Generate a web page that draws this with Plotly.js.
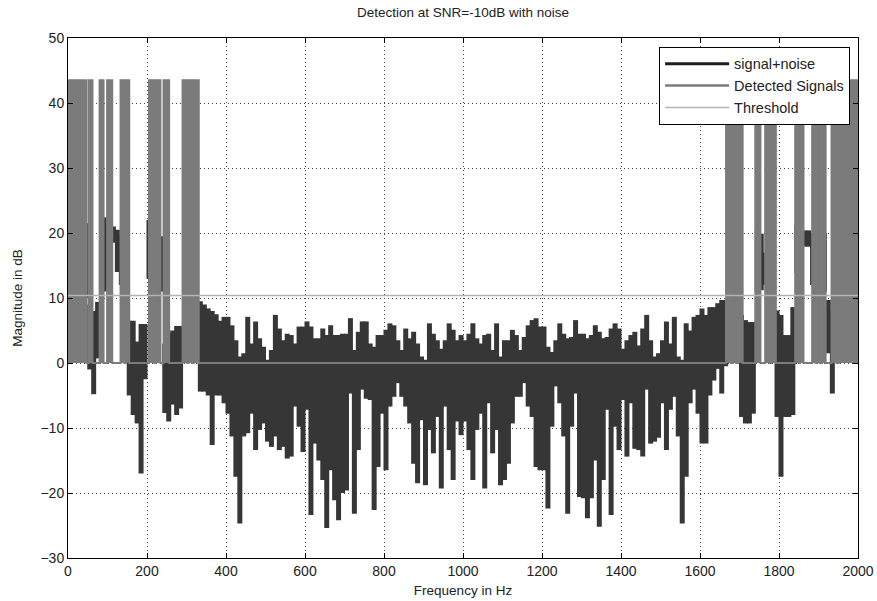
<!DOCTYPE html>
<html>
<head>
<meta charset="utf-8">
<script src="https://cdn.plot.ly/plotly-3.0.1.min.js"></script>
<style>html,body{margin:0;padding:0;background:#fff;}#chart{width:877px;height:601px;}</style>
</head>
<body>
<div id="chart"></div>
<script>
// Spectrum bins: 10 Hz wide, centred at 5, 15, ..., 1995 Hz
const binWidth = 10;
const binCount = 200;

// Upper edge of the signal+noise trace in each bin (dB)
const upper = [
  21, 21, 20, 21, 21.5, 9, 8, 9.4, 20, 22.4,
  21, 21, 20.5, 20, 10, 6.5, 6.5, 3.3, 6, 6,
  22, 22, 20, 19.5, 3, 4.6, 5, 5.7, 5.7, 21.5,
  21, 21, 20, 9.5, 9, 8.4, 8, 7.5, 6.5, 7.1,
  7.1, 5.8, 3.5, 1, 1.5, 7.1, 3, 6.4, 3.8, 2.5,
  0.5, 2, 7.4, 5.3, 3.5, 4.5, 4.3, 3, 5.6, 5.6,
  6.4, 5.6, 3.8, 3.8, 5.3, 4.3, 5.8, 4.3, 4.3, 4.5,
  4.5, 6.9, 2, 4.8, 6.4, 6.4, 3, 2.5, 4.3, 4.3,
  5.1, 6.1, 5.8, 3.5, 2, 5.3, 3.8, 4.8, 3, 1,
  0.5, 6.1, 4.5, 3.5, 2.2, 3.5, 6.1, 5.1, 3.5, 4.3,
  3.5, 4.5, 6.1, 3.8, 3, 4.3, 4.5, 2, 6.1, 1,
  3.5, 3.5, 5.1, 4.3, 2, 4, 5.8, 6.6, 6.9, 5.6,
  5.6, 2.5, 1.7, 3.5, 6.1, 4.5, 3.8, 4, 6.6, 4.5,
  4.5, 3.8, 4.3, 5.8, 4.8, 3.8, 4, 5.3, 6.1, 5.3,
  2.2, 3.5, 4.3, 4.8, 2.7, 5.3, 7.4, 3.5, 1, 1.5,
  3.5, 6.4, 3, 7.1, 1, 0.5, 6.1, 5, 7.1, 7.4,
  8.4, 7.4, 8.6, 8.6, 9.2, 9.7, 9.7, 21.5, 15.8, 21,
  7.4, 6.6, 6.3, 6.3, 20.4, 19.9, 17, 22.5, 20, 8.1,
  7.4, 4.3, 4.3, 8.6, 21.2, 21, 20.4, 20.4, 20, 22.5,
  21, 20, 9.7, 8, 22.5, 21, 21, 20, 21, 21
];

// Lower edge of the signal+noise trace in each bin (dB)
const lower = [
  12, 13, 12, 13, 10, -1, -4.8, 0.7, 12, 11,
  16, 18.5, 14, 12, 4, -5, -8, -9.3, -17, -2.5,
  13, 13.5, 11, 11, -7.7, -9, -6.4, -8, -7, 11.7,
  12.5, 10, 10, -4.4, -4.4, -5, -12.6, -5, -5, -6.2,
  -7.8, -11.3, -17.5, -24.7, -11.3, -10.8, -7.8, -13.4, -10.3, -9.3,
  -12.1, -12.9, -11.3, -13.4, -12.9, -14.7, -14.4, -6.7, -9.8, -13.7,
  -7.2, -23.4, -12.4, -15, -18, -25.4, -16.5, -21.1, -24.2, -20,
  -19.6, -4.7, -23.2, -13.4, -4.1, -5.5, -5.7, -22.6, -16, -7.8,
  -16.5, -6.7, -5.2, -3.1, -5.2, -6.7, -9.3, -15.5, -18.5, -8.8,
  -18.8, -10.3, -13.9, -8.3, -19.3, -6.7, -13.4, -18, -9, -11.1,
  -9, -13.4, -18, -10.3, -7.8, -19.3, -6.2, -13.9, -10.3, -18.8,
  -18, -15.5, -9.3, -5.2, -5.2, -3.1, -6.7, -8.3, -16, -16.5,
  -16.5, -22.4, -9.8, -3.6, -6.2, -11.3, -23.2, -9.8, -4.7, -20.6,
  -20.8, -23.9, -20.8, -15, -25.2, -18, -7.2, -23.4, -9.8, -13.4,
  -5.7, -14.4, -6.2, -13.2, -13.4, -14.4, -4.1, -12.4, -12.1, -11.5,
  -6.2, -13.4, -7.2, -5.2, -11.3, -24.7, -17.5, -6.2, -4.1, -7.8,
  -12.4, -12.4, -5, -2.7, -0.9, -4.7, -0.5, 11.2, 11.2, 13,
  -8.3, -9.3, -9.3, -7.8, 11.2, 11.2, 12, 13.8, 12, -8.3,
  -17.5, -8.3, -8.3, -8, 13.8, 14.8, 17.9, 17.9, 12, 11.2,
  12, 11, 1.5, -4.7, 11.2, 12, 12, 12, 12, 12
];

// Detected signal bands (Hz) and their level (dB)
const detStart = [0, 53, 80, 99, 133, 146, 205, 223, 242, 290, 305, 318,
                  1666, 1683, 1696, 1740, 1765, 1780, 1841, 1853, 1884, 1897, 1909, 1933, 1951];
const detEnd   = [47, 62, 90, 112, 143, 155, 219, 234, 256, 302, 314, 331,
                  1678, 1692, 1708, 1753, 1776, 1792, 1850, 1862, 1893, 1904, 1918, 1946, 2000];
const detLevel = 43.5;

// Threshold (dB) and frequency span (Hz)
const thresholdLevel = 10.4;
const freqSpan = [0, 2000];

// ---- build traces ----
const sx = [], sy = [];
for (let i = 0; i < binCount; i++) {
  const c = i * binWidth + binWidth / 2;
  sx.push(c, c, null);
  sy.push(lower[i], upper[i], null);
}

const dx = [freqSpan[0]], dy = [0];
for (let k = 0; k < detStart.length; k++) {
  dx.push(detStart[k], detStart[k], detEnd[k], detEnd[k]);
  dy.push(0, detLevel, detLevel, 0);
}
dx.push(freqSpan[1]); dy.push(0);

const sigColor = '#363636';
const detColor = '#7b7b7b';
const thrColor = '#b4b4b4';

const traces = [
  {x: sx, y: sy, type: 'scatter', mode: 'lines', name: 'signal+noise',
   line: {color: sigColor, width: 5}, showlegend: false, hoverinfo: 'skip'},
  {x: dx, y: dy, type: 'scatter', mode: 'lines', name: 'Detected Signals',
   line: {color: detColor, width: 2}, fill: 'tozeroy', fillcolor: detColor,
   showlegend: false, hoverinfo: 'skip'},
  {x: [null], y: [null], type: 'scatter', mode: 'lines', name: 'signal+noise',
   line: {color: '#1e1e1e', width: 3}},
  {x: [null], y: [null], type: 'scatter', mode: 'lines', name: 'Detected Signals',
   line: {color: detColor, width: 2.5}},
  {x: freqSpan, y: [thresholdLevel, thresholdLevel], type: 'scatter', mode: 'lines',
   name: 'Threshold', line: {color: thrColor, width: 1.5}}
];

const font = 'Liberation Sans, Arial, Helvetica, sans-serif';
const axisCommon = {
  showgrid: true, gridcolor: '#444', gridwidth: 1, griddash: '1px,3px',
  ticks: 'inside', ticklen: 5, tickcolor: '#000', mirror: 'ticks',
  showline: true, linecolor: '#000', linewidth: 1, zeroline: false,
  tickfont: {family: font, size: 14, color: '#222'}
};

const layout = {
  width: 877, height: 601,
  margin: {l: 68, r: 19, t: 38, b: 43},
  paper_bgcolor: '#fff', plot_bgcolor: '#fff',
  font: {family: font, color: '#222'},
  title: {text: 'Detection at SNR=-10dB with noise', font: {family: font, size: 13.5, color: '#222'},
          x: 0.5, xref: 'paper', y: 0.98, yref: 'container', yanchor: 'middle'},
  xaxis: Object.assign({}, axisCommon, {range: freqSpan, dtick: 200, tick0: 0,
          title: {text: 'Frequency in Hz', font: {family: font, size: 13.5, color: '#222'}, standoff: 7}}),
  yaxis: Object.assign({}, axisCommon, {range: [-30, 50], dtick: 10, tick0: 0,
          title: {text: 'Magnitude in dB', font: {family: font, size: 13.5, color: '#222'}, standoff: 14}}),
  legend: {x: 0.99, y: 0.983, xanchor: 'right', yanchor: 'top',
           bgcolor: '#fff', bordercolor: '#000', borderwidth: 1, itemwidth: 64,
           font: {family: font, size: 14.5, color: '#222'}, tracegroupgap: 0},
  showlegend: true
};

Plotly.newPlot('chart', traces, layout, {staticPlot: true, displayModeBar: false});
</script>
</body>
</html>
